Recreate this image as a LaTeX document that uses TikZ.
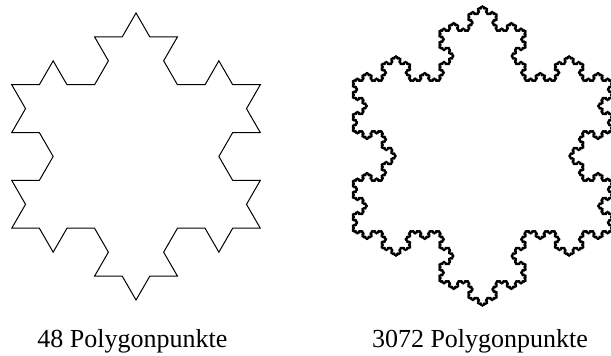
\documentclass[tikz,border=0pt]{standalone}
\usepackage{fontspec}
\setmainfont{Liberation Serif}
\usetikzlibrary{lindenmayersystems}

% Koch curve rule: every edge gets an outward triangular bump
\pgfdeclarelindenmayersystem{KochFlake}{\rule{F -> F-F++F-F}}

\begin{document}
\begin{tikzpicture}[x=1pt,y=1pt,
    caption/.style={font=\fontsize{26}{30}\selectfont, anchor=base, inner sep=0pt},
    coarseflake/.style={line width=1pt, line join=miter},
    fineflake/.style={line width=1.8pt, line join=round}]
  \useasboundingbox (0,0) rectangle (611,356);

  % snowflake of order 2: 3*4^2 = 48 vertices
  \begin{scope}[shift={(11.73,127.75)}]
    \draw[coarseflake] (0,0) lindenmayer system
      [lindenmayer system={KochFlake, axiom=F++F++F, order=2, step=27.62pt, angle=60}] -- cycle;
  \end{scope}

  % snowflake of order 5: 3*4^5 = 3072 vertices
  \begin{scope}[shift={(352.6,125)}]
    \draw[fineflake] (0,0) lindenmayer system
      [lindenmayer system={KochFlake, axiom=F++F++F, order=5, step=1.0691pt, angle=60}] -- cycle;
  \end{scope}

  \node[caption] (capA) at (132.4,8.3) {48 Polygonpunkte};
  \node[caption] (capB) at (480,8.3) {3072 Polygonpunkte};
\end{tikzpicture}
\end{document}
